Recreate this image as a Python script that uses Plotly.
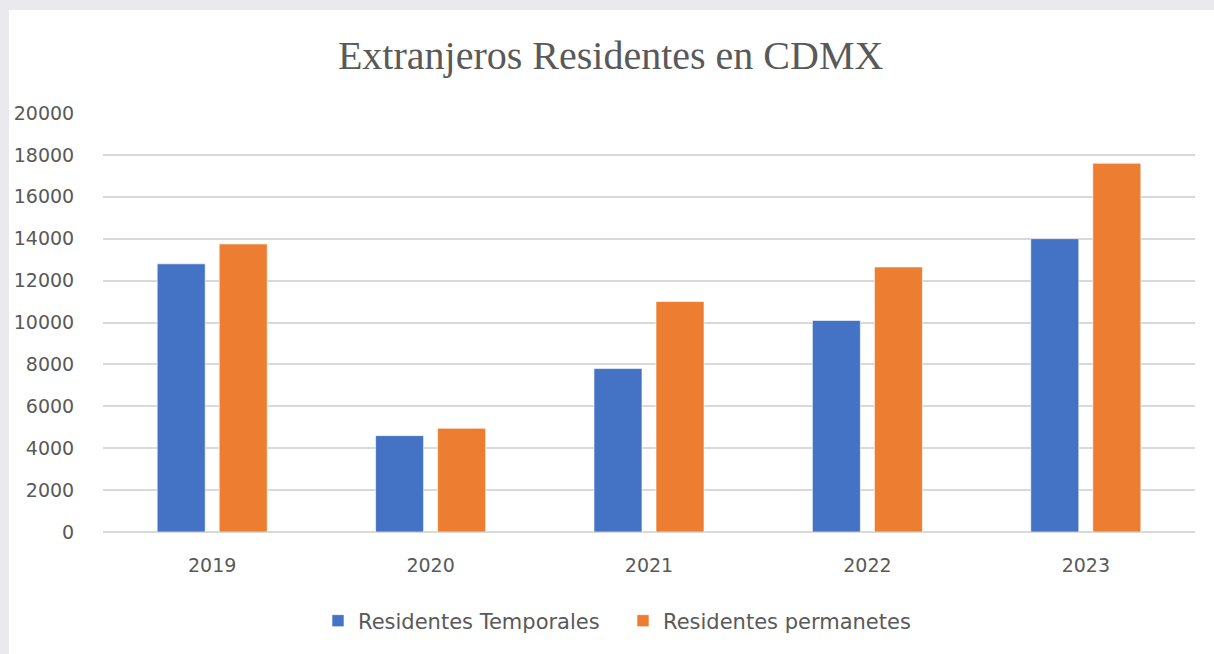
import plotly.graph_objects as go

years = ["2019", "2020", "2021", "2022", "2023"]
temporales = [12800, 4600, 7800, 10100, 14000]
permanentes = [13750, 4950, 11000, 12650, 17600]
y_ticks = [0, 2000, 4000, 6000, 8000, 10000, 12000, 14000, 16000, 18000, 20000]
y_tick_text = [str(v) for v in y_ticks]

fig = go.Figure()
fig.add_trace(go.Bar(x=years, y=temporales, name="Residentes Temporales",
                     marker=dict(color="#4472C4", line=dict(color="rgba(255,255,255,0.6)", width=1))))
fig.add_trace(go.Bar(x=years, y=permanentes, name="Residentes permanetes",
                     marker=dict(color="#ED7D31", line=dict(color="rgba(255,255,255,0.6)", width=1))))

L, R, T, B = 103, 19, 113, 122
W, H = 1214, 654
pw, ph = W - L - R, H - T - B

def px2x(px):
    return (px - L) / pw

def py2y(py):
    return (H - B - py) / ph

fig.add_shape(type="rect", xref="paper", yref="paper", layer="below",
              x0=px2x(9), x1=px2x(1220), y0=py2y(660), y1=py2y(10),
              fillcolor="white", line=dict(width=0))

FONT = "DejaVu Sans"
fig.update_layout(
    width=W, height=H,
    margin=dict(l=L, r=R, t=T, b=B, autoexpand=False),
    paper_bgcolor="#eaeaee",
    plot_bgcolor="rgba(0,0,0,0)",
    barmode="group", bargap=0.432, bargroupgap=0.226,
    title=dict(text="Extranjeros Residentes en CDMX", x=0.503, xanchor="center",
               y=(H - 55) / H, yanchor="middle",
               font=dict(family="Liberation Serif", size=40, color="#595959")),
    font=dict(family=FONT, size=19, color="#595959"),
    legend=dict(orientation="h", x=px2x(318), xanchor="left", y=py2y(621), yanchor="middle",
                font=dict(family=FONT, size=21, color="#595959"), bgcolor="rgba(0,0,0,0)",
                traceorder="normal", entrywidth=260, itemwidth=30),
    showlegend=True,
)
fig.update_xaxes(type="category", showgrid=False, showline=False, zeroline=False,
                 ticks="outside", ticklen=16, tickcolor="rgba(0,0,0,0)",
                 tickfont=dict(family=FONT, size=19, color="#595959"))
fig.update_yaxes(range=[0, 20000], tickvals=y_ticks, ticktext=y_tick_text, showgrid=True,
                 gridcolor="#d9d9d9", gridwidth=1.5, zeroline=True, zerolinecolor="#d9d9d9",
                 zerolinewidth=1.5, showline=False,
                 ticks="outside", ticklen=24, tickcolor="rgba(0,0,0,0)",
                 tickfont=dict(family=FONT, size=19, color="#595959"))

fig.write_html("out.html", config={"displayModeBar": False},
               post_script="document.body.style.margin='0';document.body.style.background='#eaeaee';")
